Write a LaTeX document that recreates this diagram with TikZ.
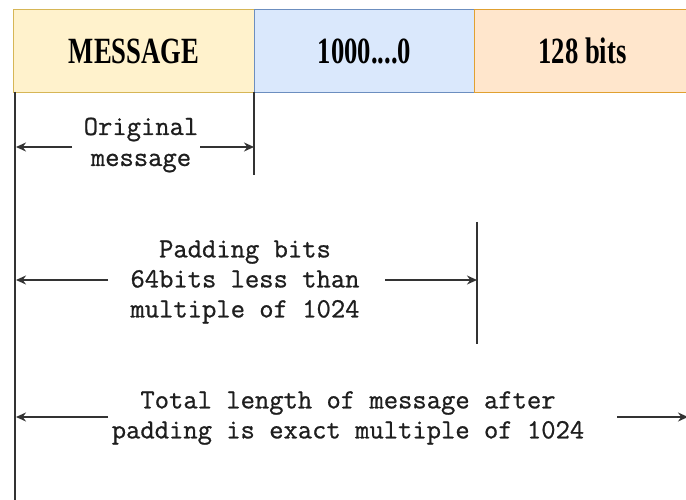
\documentclass[tikz,border=0pt]{standalone}
\usepackage{fontspec}
\setmainfont{Liberation Serif}
\setmonofont[FakeBold=0.8]{Latin Modern Mono}
\usetikzlibrary{arrows.meta}
\definecolor{yfill}{HTML}{FFF2CC}
\definecolor{ydraw}{HTML}{D6B656}
\definecolor{bfill}{HTML}{DAE8FC}
\definecolor{bdraw}{HTML}{6C8EBF}
\definecolor{ofill}{HTML}{FFE6CC}
\definecolor{odraw}{HTML}{E0A030}
\definecolor{txt}{HTML}{1E1E1E}
\tikzset{
  field/.style={rectangle, anchor=north west, minimum height=83pt, inner sep=0pt, line width=1.2pt, text=black},
  vline/.style={line width=1.6pt, draw=black!80},
  dimarrow/.style={line width=1.5pt, draw=black!80, -{Stealth[length=10pt,width=9pt]}},
  label/.style={font=\ttfamily\fontsize{27.8}{30}\selectfont, text=txt, align=center, inner sep=0pt},
}
\newcommand{\fieldtext}[1]{\scalebox{0.72}[1]{\fontsize{37}{40}\selectfont\bfseries #1}}
\begin{document}
\begin{tikzpicture}[x=1pt,y=-1pt]
\useasboundingbox (0,0) rectangle (686,500);
\fill[white] (0,0) rectangle (686,500);
% fields
\node[field, fill=yfill, draw=ydraw, minimum width=241pt] (msg) at (13,9) {\fieldtext{MESSAGE}};
\node[field, fill=bfill, draw=bdraw, minimum width=220pt] (pad) at (254,9) {\fieldtext{1000....0}};
\node[field, fill=ofill, draw=odraw, minimum width=216pt] (len) at (474,9) {\fieldtext{128 bits}};
% vertical markers
\coordinate (v0a) at (15,92);  \coordinate (v0b) at (15,500);
\coordinate (v1a) at (254,92); \coordinate (v1b) at (254,175);
\coordinate (v2a) at (477,222); \coordinate (v2b) at (477,344);
\draw[vline] (v0a) -- (v0b);
\draw[vline] (v1a) -- (v1b);
\draw[vline] (v2a) -- (v2b);
% labels
\node[label, font=\ttfamily\fontsize{27.8}{31}\selectfont] (lorig) at (141,145) {Original\\message};
\node[label] (lpad) at (245,282) {Padding bits\\64bits less than\\multiple of 1024};
\node[label] (ltot) at (348,418) {Total length of message after\\padding is exact multiple of 1024};
% arrow ends
\coordinate (a1l) at (72,147);  \coordinate (a1lt) at (16,147);
\coordinate (a1r) at (200,147); \coordinate (a1rt) at (254,147);
\coordinate (a2l) at (108,280); \coordinate (a2lt) at (16,280);
\coordinate (a2r) at (385,280); \coordinate (a2rt) at (477,280);
\coordinate (a3l) at (108,417); \coordinate (a3lt) at (16,417);
\coordinate (a3r) at (617,417); \coordinate (a3rt) at (688,417);
\draw[dimarrow] (a1l) -- (a1lt);
\draw[dimarrow] (a1r) -- (a1rt);
\draw[dimarrow] (a2l) -- (a2lt);
\draw[dimarrow] (a2r) -- (a2rt);
\draw[dimarrow] (a3l) -- (a3lt);
\draw[dimarrow] (a3r) -- (a3rt);
\end{tikzpicture}
\end{document}
